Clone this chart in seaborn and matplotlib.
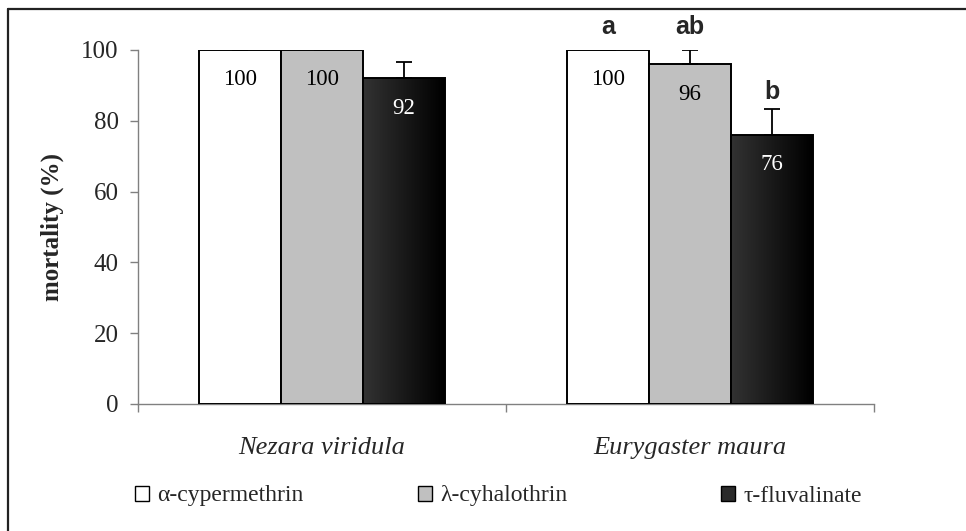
import numpy as np
import pandas as pd
import seaborn as sns
import matplotlib.pyplot as plt
from matplotlib.lines import Line2D
from matplotlib.patches import Patch

species = ["Nezara viridula", "Eurygaster maura"]
treatments = ["α-cypermethrin", "λ-cyhalothrin", "τ-fluvalinate"]
mortality_nezara = [100, 100, 92]
mortality_eurygaster = [100, 96, 76]
se_nezara = [0, 0, 4.6]
se_eurygaster = [0, 4, 7.4]
letters_eurygaster = ["a", "ab", "b"]
letter_y_eurygaster = [106.5, 106.5, 88.0]
yticks = [0, 20, 40, 60, 80, 100]

colors = ["#ffffff", "#c0c0c0", "#2b2b2b"]

df = pd.DataFrame({
    "species": [species[0]] * 3 + [species[1]] * 3,
    "treatment": treatments * 2,
    "mortality": mortality_nezara + mortality_eurygaster,
    "se": se_nezara + se_eurygaster,
})

sns.set_style("white")
plt.rcParams["font.family"] = ["Liberation Serif", "DejaVu Serif"]

fig = plt.figure(figsize=(9.66, 5.31), dpi=100)
ax = fig.add_axes([138 / 966, 1 - 404 / 531, 736 / 966, 354 / 531])

sns.barplot(data=df, x="species", y="mortality", hue="treatment",
            hue_order=treatments, order=species, palette=colors,
            saturation=1, width=0.668, edgecolor="black", linewidth=1.4,
            errorbar=None, legend=False, ax=ax)

# gradient fill for the dark bars
grad = np.linspace(0.2, 0.0, 256).reshape(1, -1)
for bar in ax.containers[2]:
    x0, w = bar.get_x(), bar.get_width()
    h = bar.get_height()
    im = ax.imshow(grad, cmap="gray", vmin=0, vmax=1, aspect="auto",
                   extent=[x0, x0 + w, 0, h], zorder=bar.get_zorder())
    im.set_clip_path(bar)
    bar.set_facecolor("none")
    bar.set_zorder(bar.get_zorder() + 0.1)

# error bars (upper only) and value labels
for cont, t in zip(ax.containers, treatments):
    sub = df[df["treatment"] == t].set_index("species").loc[species]
    xs = [b.get_x() + b.get_width() / 2 for b in cont]
    ax.errorbar(xs, sub["mortality"], yerr=[np.zeros(len(xs)), sub["se"]],
                fmt="none", ecolor="black", elinewidth=1.3, capsize=5.5,
                capthick=1.3, zorder=5)
    txt_color = "white" if t == treatments[2] else "black"
    for x, v in zip(xs, sub["mortality"]):
        ax.annotate(f"{v:g}", (x, v), xytext=(0, -21.5), textcoords="offset points",
                    ha="center", va="center", fontsize=16.5, color=txt_color, zorder=6)

# significance letters for Eurygaster maura
for cont, lab, ly in zip(ax.containers, letters_eurygaster, letter_y_eurygaster):
    b = cont[1]
    ax.text(b.get_x() + b.get_width() / 2, ly, lab, ha="center", va="center",
            fontsize=18, fontweight="bold", family="Liberation Sans", clip_on=False)

ax.set_xlim(-0.5, 1.5)
ax.set_ylim(0, 100)
ax.set_yticks(yticks)
ax.set_xticks([-0.5, 0.5, 1.5])
ax.set_xticklabels([])
ax.set_xticks([0, 1], minor=True)
ax.set_xticklabels(species, minor=True, fontstyle="italic", fontsize=19)
ax.tick_params(axis="x", which="minor", length=0, pad=24, bottom=True)
ax.tick_params(axis="both", which="major", direction="out", length=6,
               color="#808080", width=1, labelsize=18, bottom=True, left=True)
ax.tick_params(axis="y", pad=8)
ax.set_xlabel("")
ax.set_ylabel("mortality (%)", fontsize=18, fontweight="bold", labelpad=12)
for s in ["top", "right"]:
    ax.spines[s].set_visible(False)
for s in ["left", "bottom"]:
    ax.spines[s].set_color("#808080")
    ax.spines[s].set_linewidth(1)
    ax.spines[s].set_zorder(0.5)

# legend: three entries placed along the bottom like the original
legend_x = [135, 418, 721]
for c, t, lx in zip(colors, treatments, legend_x):
    h = Patch(facecolor=c, edgecolor="black", linewidth=1)
    fig.legend([h], [t], loc="center left", frameon=False,
               bbox_to_anchor=(lx / 966, 1 - 496 / 531), fontsize=17,
               handlelength=0.6, handleheight=0.6, handletextpad=0.35,
               borderaxespad=0, borderpad=0)

# outer frame (top and left only)
fig.add_artist(Line2D([8 / 966, 1], [1 - 8.5 / 531] * 2, color="#222222", lw=1.6))
fig.add_artist(Line2D([8 / 966] * 2, [0, 1 - 8.5 / 531], color="#222222", lw=1.6))

fig.savefig("out.png", dpi=100, facecolor="white")
